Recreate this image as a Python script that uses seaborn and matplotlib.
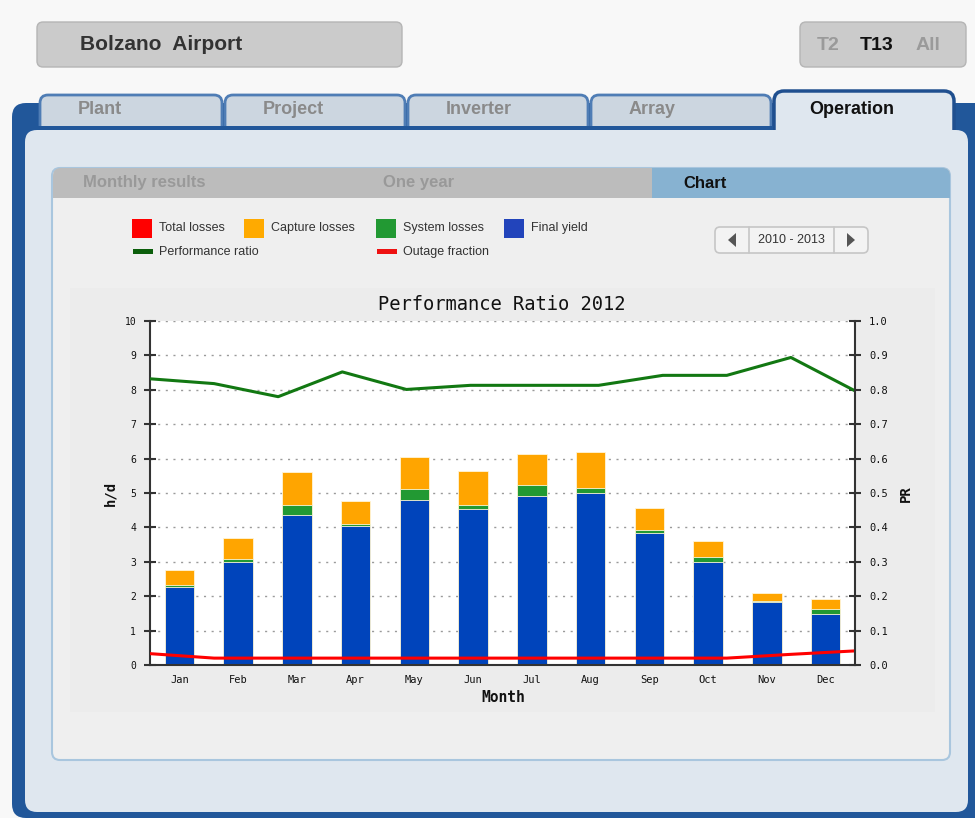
import numpy as np
import pandas as pd
import matplotlib
matplotlib.use('Agg')
import matplotlib.pyplot as plt
from matplotlib.patches import FancyBboxPatch, Rectangle, Polygon
import seaborn as sns

# monthly values (2012)
months = ['Jan', 'Feb', 'Mar', 'Apr', 'May', 'Jun',
          'Jul', 'Aug', 'Sep', 'Oct', 'Nov', 'Dec']
final_yield = [2.26, 3.00, 4.35, 4.03, 4.80, 4.54, 4.92, 5.00, 3.84, 2.99, 1.84, 1.49]
system_losses = [0.07, 0.07, 0.30, 0.07, 0.31, 0.11, 0.31, 0.15, 0.07, 0.15, 0.03, 0.14]
capture_losses = [0.42, 0.61, 0.95, 0.66, 0.93, 1.00, 0.91, 1.03, 0.65, 0.46, 0.23, 0.30]
perf_ratio = [0.832, 0.818, 0.780, 0.852, 0.801, 0.813, 0.813, 0.813, 0.842, 0.842, 0.894, 0.797]
outage_fraction = [0.033, 0.020, 0.020, 0.020, 0.020, 0.020, 0.020, 0.020, 0.020, 0.020, 0.031, 0.041]

main_tabs = ['Plant', 'Project', 'Inverter', 'Array', 'Operation']
sub_tabs = ['Monthly results', 'One year', 'Chart']
legend_boxes = [('Total losses', '#ff0000'), ('Capture losses', '#ffaa00'),
                ('System losses', '#229933'), ('Final yield', '#2244bb')]
legend_lines = [('Performance ratio', '#0b5e0b'), ('Outage fraction', '#ee1111')]

sns.set_theme(style='white')
plt.rcParams['font.family'] = ['Liberation Sans', 'DejaVu Sans']
mono = 'DejaVu Sans Mono'

fig = plt.figure(figsize=(9.75, 8.18), dpi=100)
fig.patch.set_facecolor('#f8f8f8')

# page background drawn in pixel coordinates
bg = fig.add_axes([0, 0, 1, 1])
bg.set_xlim(0, 975)
bg.set_ylim(818, 0)
bg.axis('off')


def box(x0, y0, x1, y1, fc, ec='none', lw=0, r=6, z=1):
    p = FancyBboxPatch((x0, y0), x1 - x0, y1 - y0,
                       boxstyle='round,pad=0,rounding_size=%s' % r,
                       fc=fc, ec=ec, lw=lw, zorder=z)
    bg.add_patch(p)


def rect(x0, y0, w, h, fc, z):
    bg.add_patch(Rectangle((x0, y0), w, h, fc=fc, ec='none', lw=0, zorder=z))


# header boxes
box(37, 22, 402, 67, '#cbcbcb', '#b5b5b5', 1, r=6)
bg.text(80, 45, 'Bolzano  Airport', fontsize=15, fontweight='bold', color='#333333',
        va='center', ha='left')
box(800, 22, 966, 67, '#cbcbcb', '#b5b5b5', 1, r=6)
bg.text(828, 45, 'T2', fontsize=14, fontweight='bold', color='#9a9a9a', va='center', ha='center')
bg.text(877, 45, 'T13', fontsize=14, fontweight='bold', color='#111111', va='center', ha='center')
bg.text(928, 45, 'All', fontsize=14, fontweight='bold', color='#9a9a9a', va='center', ha='center')

# blue frame
box(12, 103, 990, 818, '#21579a', r=14, z=1)

# tabs
tab_x = [(40, 222), (225, 405), (408, 588), (591, 771)]
for (x0, x1), name in zip(tab_x, main_tabs[:4]):
    box(x0, 95, x1, 140, '#ccd6e0', '#4f7db5', 2, r=8, z=2)
    bg.text(x0 + 38, 110, name, fontsize=13, fontweight='bold', color='#8a8a8a',
            va='center', ha='left', zorder=3)
box(774, 91, 954, 140, '#dfe7ef', '#1f4f8f', 2.5, r=10, z=2)
bg.text(852, 110, main_tabs[4], fontsize=13, fontweight='bold', color='#111111',
        va='center', ha='center', zorder=3)
rect(38, 126, 735, 4, '#21579a', 3)

# inner panel
box(25, 130, 968, 812, '#dfe7ef', r=12, z=3)

# sub panel
box(52, 168, 950, 760, '#efefef', '#a9c6de', 1.5, r=8, z=4)
box(53, 168, 950, 198, '#bcbcbc', r=8, z=5)
rect(53, 185, 897, 13, '#bcbcbc', 5)
box(652, 168, 950, 198, '#87b2d1', r=8, z=6)
rect(652, 168, 20, 30, '#87b2d1', 6)
rect(652, 185, 298, 13, '#87b2d1', 6)
for x, name, col in zip([83, 383, 683], sub_tabs, ['#999999', '#999999', '#111111']):
    bg.text(x, 183, name, fontsize=12, fontweight='bold', color=col,
            va='center', ha='left', zorder=7)

# legend
for (label, col), x in zip(legend_boxes, [132, 244, 376, 504]):
    rect(x, 219, 20, 19, col, 7)
    bg.text(x + 27, 228, label, fontsize=9, color='#333333', va='center', ha='left', zorder=7)
for (label, col), x in zip(legend_lines, [133, 377]):
    rect(x, 249, 20, 5, col, 7)
    bg.text(x + 26, 252, label, fontsize=9, color='#333333', va='center', ha='left', zorder=7)

# year selector
box(715, 227, 868, 253, '#f3f3f3', '#c6c6c6', 1.2, r=5, z=7)
bg.plot([749, 749], [227, 253], color='#c6c6c6', lw=1.2, zorder=8)
bg.plot([834, 834], [227, 253], color='#c6c6c6', lw=1.2, zorder=8)
bg.add_patch(Polygon([[736, 233], [736, 247], [728, 240]], fc='#555555', ec='none', zorder=8))
bg.add_patch(Polygon([[847, 233], [847, 247], [855, 240]], fc='#555555', ec='none', zorder=8))
bg.text(791, 240, '2010 - 2013', fontsize=9, color='#333333', va='center', ha='center', zorder=8)

# chart image background
rect(70, 288, 865, 424, '#ececec', 6)

# chart
df = pd.DataFrame({'pos': np.arange(12), 'month': months,
                   'final': final_yield, 'sys': system_losses, 'cap': capture_losses})
df['top_sys'] = df['final'] + df['sys']
df['top_cap'] = df['top_sys'] + df['cap']

ax = fig.add_axes([150 / 975, (818 - 665) / 818, 705 / 975, 344 / 818])
ax.set_facecolor('white')
for col, c in [('top_cap', '#ffa500'), ('top_sys', '#229933'), ('final', '#0044bb')]:
    sns.barplot(data=df, x='pos', y=col, native_scale=True, width=0.5, color=c,
                saturation=1, errorbar=None, edgecolor='#fff6d8', linewidth=0.6, ax=ax)
ax.set_xlim(-0.5, 11.5)
ax.set_ylim(0, 10)
ax.set_yticks(range(11))
ax.set_xticks(range(12))
ax.set_xticklabels(months, fontfamily=mono)
ax.set_yticklabels([str(v) for v in range(11)], fontfamily=mono)
ax.set_xlabel('')
ax.set_ylabel('')
ax.set_axisbelow(True)
ax.yaxis.grid(True, linestyle=(0, (1.5, 4)), color='#9a9a9a', lw=1)
ax.tick_params(axis='x', length=0, labelsize=7.5, pad=7, colors='#111111')
ax.tick_params(axis='y', direction='inout', length=8, width=1.5, color='#333333',
               labelsize=7, pad=6, labelcolor='#111111')
for s in ['top', 'right']:
    ax.spines[s].set_visible(False)
for s in ['left', 'bottom']:
    ax.spines[s].set_color('#333333')
    ax.spines[s].set_linewidth(1.5)

ax2 = ax.twinx()
line_x = -0.5 + np.arange(12) * 12 / 11
sns.lineplot(x=line_x, y=perf_ratio, ax=ax2, color='#127812', lw=2.2)
sns.lineplot(x=line_x, y=outage_fraction, ax=ax2, color='#ff0000', lw=2.2)
ax2.set_ylim(0, 1)
ax2.set_xlim(-0.5, 11.5)
ax2.set_yticks(np.arange(0, 1.01, 0.1))
ax2.set_yticklabels(['%.1f' % v for v in np.arange(0, 1.01, 0.1)], fontfamily=mono)
ax2.tick_params(axis='y', direction='inout', length=8, width=1.5, color='#333333',
                labelsize=7.5, pad=6, labelcolor='#111111')
for s in ['top', 'left', 'bottom']:
    ax2.spines[s].set_visible(False)
ax2.spines['right'].set_color('#333333')
ax2.spines['right'].set_linewidth(1.5)
ax2.set_ylabel('')

fig.text(502 / 975, 1 - 304 / 818, 'Performance Ratio 2012', ha='center', va='center',
         family=mono, size=13.5, color='#111111')
fig.text(110 / 975, 1 - 493 / 818, 'h/d', ha='center', va='center', rotation=90,
         family=mono, size=10, fontweight='bold', color='#111111')
fig.text(906 / 975, 1 - 494 / 818, 'PR', ha='center', va='center', rotation=90,
         family=mono, size=10, fontweight='bold', color='#111111')
fig.text(503 / 975, 1 - 698 / 818, 'Month', ha='center', va='center',
         family=mono, size=10.5, fontweight='bold', color='#111111')

fig.savefig('out.png', dpi=100, facecolor=fig.get_facecolor())
